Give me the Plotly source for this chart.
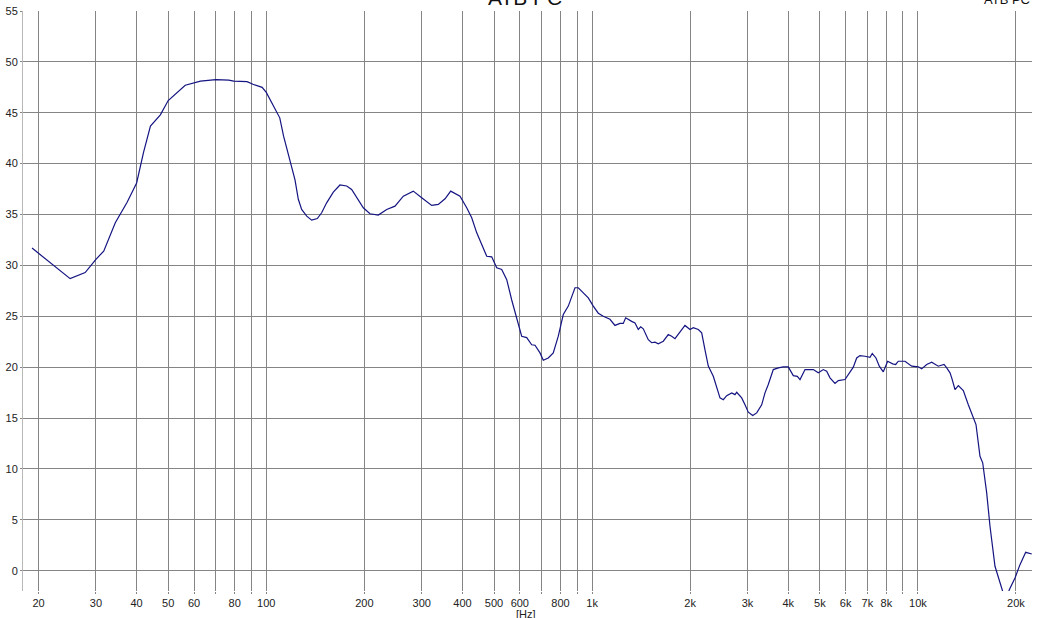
import plotly.graph_objects as go


# frequency response
freq_hz = [
    19.1, 25.0, 27.8, 30.0, 31.7, 34.4, 37.4, 40.0, 42.0, 44.1, 47.3, 50.0,
    56.4, 59.5, 62.8, 70.0, 76.7, 79.5, 87.3, 91.0, 97.1, 100.0, 105.4, 110.0,
    113.0, 118.6, 122.5, 125.4, 128.4, 133.1, 137.8, 143.4, 147.9, 153.2,
    160.6, 168.3, 176.5, 182.8, 189.4, 198.5, 208.1, 220.7, 234.2, 248.3,
    263.4, 282.6, 299.9, 321.9, 337.3, 353.7, 368.2, 393.2, 412.3, 427.1,
    442.5, 458.4, 474.9, 491.9, 509.6, 527.9, 547.0, 566.6, 586.9, 608.0,
    630.0, 652.6, 668.0, 692.0, 708.3, 733.7, 760.0, 787.5, 815.7, 845.3,
    886.1, 907.0, 939.7, 973.4, 1008.5, 1044.7, 1082.4, 1134.6, 1175.5,
    1217.7, 1246.5, 1267.8, 1322.7, 1354.1, 1386.0, 1409.7, 1435.9, 1487.5,
    1523.6, 1559.6, 1596.5, 1653.8, 1713.3, 1754.9, 1796.5, 1861.1, 1927.9,
    1997.7, 2044.8, 2118.4, 2169.8, 2220.9, 2273.2, 2355.2, 2412.3, 2469.1,
    2527.7, 2589.0, 2682.4, 2745.6, 2778.7, 2878.4, 2946.8, 3016.2, 3111.4,
    3200.7, 3315.5, 3393.7, 3473.6, 3598.9, 3728.7, 3862.5, 4001.3, 4145.5,
    4264.6, 4346.9, 4503.0, 4774.7, 4946.1, 5124.1, 5248.1, 5372.8, 5565.6,
    5697.0, 5973.7, 6114.2, 6334.5, 6488.0, 6640.7, 6880.0, 7127.0, 7244.0,
    7435.8, 7612.0, 7830.0, 8077.0, 8367.0, 8546.0, 8705.0, 9126.0, 9571.0,
    10027, 10271, 10641, 11023, 11550, 12028, 12260, 12548, 12700, 12999,
    13307, 13785, 14281, 14791, 15077, 15509, 15808, 16260, 16645, 17243,
    17652, 18080, 18600, 19080, 19860, 20575, 21420, 22360,
]
level_db = [
    31.7, 28.7, 29.3, 30.6, 31.4, 34.2, 36.2, 38.1, 41.1, 43.7, 44.8, 46.2,
    47.7, 47.9, 48.1, 48.25, 48.2, 48.1, 48.05, 47.8, 47.5, 47.0, 45.6, 44.5,
    42.7, 40.1, 38.4, 36.5, 35.5, 34.84, 34.45, 34.6, 35.17, 36.15,
    37.2, 37.9, 37.8, 37.46, 36.65, 35.66, 35.07, 34.94, 35.5, 35.82,
    36.8, 37.3, 36.65, 35.89, 35.99, 36.55, 37.3, 36.8, 35.66, 34.68,
    33.2, 32.05, 30.9, 30.84, 29.76, 29.6, 28.6, 26.6, 24.7, 23.04,
    22.9, 22.2, 22.15, 21.4, 20.68, 20.9, 21.4, 23.04, 25.17, 26.0,
    27.8, 27.8, 27.3, 26.8, 26.0, 25.3, 25.0, 24.7, 24.1,
    24.3, 24.3, 24.85, 24.5, 24.35, 23.7, 23.96, 23.77, 22.7,
    22.4, 22.45, 22.3, 22.55, 23.2, 23.04, 22.8, 23.5, 24.1,
    23.7, 23.87, 23.7, 23.37, 21.7, 20.1, 19.1, 18.1, 16.98,
    16.8, 17.2, 17.47, 17.3, 17.53, 16.98, 16.3, 15.57, 15.24,
    15.5, 16.3, 17.47, 18.3, 19.76, 19.93, 20.03, 20.03, 19.17,
    19.1, 18.78, 19.76, 19.76, 19.44, 19.76, 19.6, 18.95, 18.39,
    18.68, 18.78, 19.27, 20.0, 20.9, 21.14, 21.07, 20.97, 21.34,
    20.9, 20.09, 19.54, 20.58, 20.32, 20.26, 20.58, 20.58, 20.09,
    20.03, 19.83, 20.26, 20.48, 20.09, 20.26, 19.93, 19.44, 18.95, 17.8,
    18.19, 17.7, 16.3, 15.0, 14.36, 11.24, 10.6, 7.64, 4.36, 0.43,
    -0.72, -1.87, -3.0, -1.87, -0.72, 0.59, 1.8, 1.64,
]

x_tick_vals = [20, 30, 40, 50, 60, 70, 80, 90, 100,
               200, 300, 400, 500, 600, 700, 800, 900, 1000,
               2000, 3000, 4000, 5000, 6000, 7000, 8000, 9000, 10000, 20000]
x_tick_text = ["20", "30", "40", "50", "60", "", "80", "", "100",
               "200", "300", "400", "500", "600", "", "800", "", "1k",
               "2k", "3k", "4k", "5k", "6k", "7k", "8k", "", "10k", "20k"]
y_tick_vals = [0, 5, 10, 15, 20, 25, 30, 35, 40, 45, 50, 55]

grid = "#858585"
font = "Arial, Liberation Sans, sans-serif"

fig = go.Figure()

fig.add_trace(go.Scatter(
    x=freq_hz,
    y=level_db,
    mode="lines",
    line=dict(color="#141482", width=1.2),
    showlegend=False,
))

fig.update_layout(
    width=1043,
    height=618,
    margin=dict(l=23, r=11, t=11, b=27),
    paper_bgcolor="white",
    plot_bgcolor="white",
    font=dict(family=font, size=11, color="#222222"),
    xaxis=dict(
        type="log",
        range=[1.2533, 4.3502],
        tickvals=x_tick_vals,
        ticktext=x_tick_text,
        showgrid=True,
        gridcolor=grid,
        gridwidth=1,
        ticks="outside",
        ticklen=2,
        tickcolor=grid,
        showline=False,
        zeroline=False,
        automargin=False,
    ),
    yaxis=dict(
        range=[-2, 55],
        tickvals=y_tick_vals,
        showgrid=True,
        gridcolor=grid,
        gridwidth=1,
        ticks="outside",
        ticklen=2,
        tickcolor=grid,
        showline=True,
        linecolor="#b8b8b8",
        zeroline=False,
        automargin=False,
    ),
    annotations=[
        dict(text="ATB PC", x=0.4975, y=1.024, xref="paper", yref="paper",
             xanchor="center", yanchor="middle", showarrow=False,
             font=dict(size=21, color="#111111")),
        dict(text="ATB PC", x=1.0, y=1.019, xref="paper", yref="paper",
             xanchor="right", yanchor="middle", showarrow=False,
             font=dict(size=13, color="#111111")),
        dict(text="[Hz]", x=0.499, y=-0.04, xref="paper", yref="paper",
             xanchor="center", yanchor="middle", showarrow=False,
             font=dict(size=11, color="#222222")),
    ],
)

# the page body has an 8px margin by default; drop it so the chart sits at 0,0
fig.write_html("out.html", config={"displayModeBar": False},
               post_script="document.body.style.margin = '0';")
